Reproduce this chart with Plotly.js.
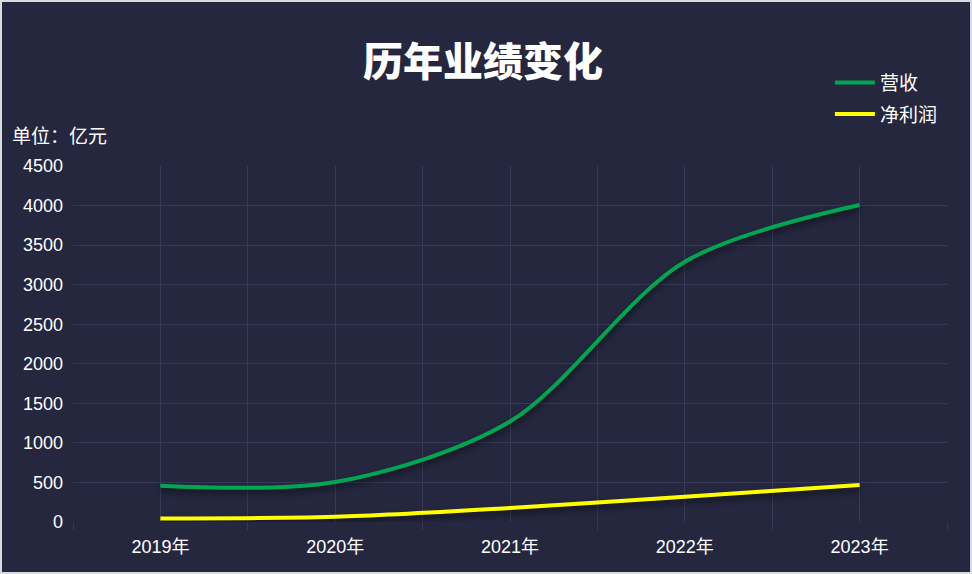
<!DOCTYPE html>
<html>
<head>
<meta charset="utf-8">
<script src="https://cdn.plot.ly/plotly-3.0.1.min.js"></script>
<style>
  html, body { margin: 0; padding: 0; background: #d8dae2; }
  #wrap { width: 972px; height: 574px; box-sizing: border-box; border: 2px solid #d8dae2; background: #25273f; }
  #chart { width: 968px; height: 570px; }
  .scatterlayer .trace .js-line { filter: drop-shadow(0px 4px 3px rgba(0,0,0,0.55)); }
</style>
</head>
<body>
<div id="wrap"><div id="chart"></div></div>
<script>
const years = ['2019年', '2020年', '2021年', '2022年', '2023年'];
const revenue = [458, 505, 1270, 3290, 4007];
const netProfit = [45, 65, 177, 320, 468];
const yTicks = [0, 500, 1000, 1500, 2000, 2500, 3000, 3500, 4000, 4500];

const bg = '#25273f';
const grid = '#363a56';
const font = 'Arial, "Liberation Sans", "Noto Sans CJK SC", sans-serif';

const traces = [
  { x: years, y: revenue, name: '营收', type: 'scatter', mode: 'lines', legendgroup: 'a',
    line: { color: '#00a651', width: 4, shape: 'spline', smoothing: 0.9 }, xaxis: 'x', yaxis: 'y' },
  { x: years, y: netProfit, name: '净利润', type: 'scatter', mode: 'lines', legendgroup: 'b',
    line: { color: '#ffff00', width: 4, shape: 'spline', smoothing: 0.9 }, xaxis: 'x2', yaxis: 'y' }
];

const layout = {
  width: 968, height: 570,
  paper_bgcolor: bg, plot_bgcolor: bg,
  margin: { l: 71, r: 23, t: 164, b: 50 },
  font: { family: font, color: '#ffffff', size: 16 },
  title: { text: '历年业绩变化', x: 0.497, xanchor: 'center', y: 0.895, yanchor: 'middle',
    font: { family: '"Noto Sans CJK SC", sans-serif', size: 40, color: '#ffffff', weight: 900 } },
  showlegend: true,
  legend: { x: 0.866, xanchor: 'left', y: 0.892, yref: 'container', yanchor: 'top',
    traceorder: 'grouped', tracegroupgap: 4,
    bgcolor: 'rgba(0,0,0,0)', font: { size: 19, color: '#ffffff', family: '"Noto Sans CJK SC", sans-serif' },
    itemwidth: 40 },
  xaxis: {
    type: 'category', categoryorder: 'array', categoryarray: years,
    range: [-0.5, 4.5], tickson: 'boundaries', showgrid: true, gridcolor: grid, gridwidth: 1,
    ticks: 'outside', ticklen: 7, tickcolor: grid, tickwidth: 1, ticklabelstandoff: 12,
    showline: false, zeroline: false, fixedrange: true,
    tickfont: { size: 18, color: '#ffffff', family: font }
  },
  xaxis2: {
    type: 'category', categoryorder: 'array', categoryarray: years,
    overlaying: 'x', range: [-0.5, 4.5], showgrid: true, gridcolor: grid, gridwidth: 1,
    showticklabels: false, ticks: '', showline: false, zeroline: false, fixedrange: true
  },
  yaxis: {
    range: [0, 4500], tickvals: yTicks, ticktext: yTicks.map(String),
    showgrid: true, gridcolor: grid, gridwidth: 1, zeroline: false, showline: false,
    ticks: '', ticklabelstandoff: 9, fixedrange: true,
    tickfont: { size: 18, color: '#ffffff', family: font }
  },
  annotations: [
    { text: '单位：亿元', xref: 'paper', yref: 'paper', x: -0.072, xanchor: 'left',
      y: 1.045, yanchor: 'bottom', showarrow: false,
      font: { size: 19, color: '#ffffff', family: '"Noto Sans CJK SC", sans-serif' } }
  ]
};

Plotly.newPlot('chart', traces, layout, { displayModeBar: false, staticPlot: true });
</script>
</body>
</html>
